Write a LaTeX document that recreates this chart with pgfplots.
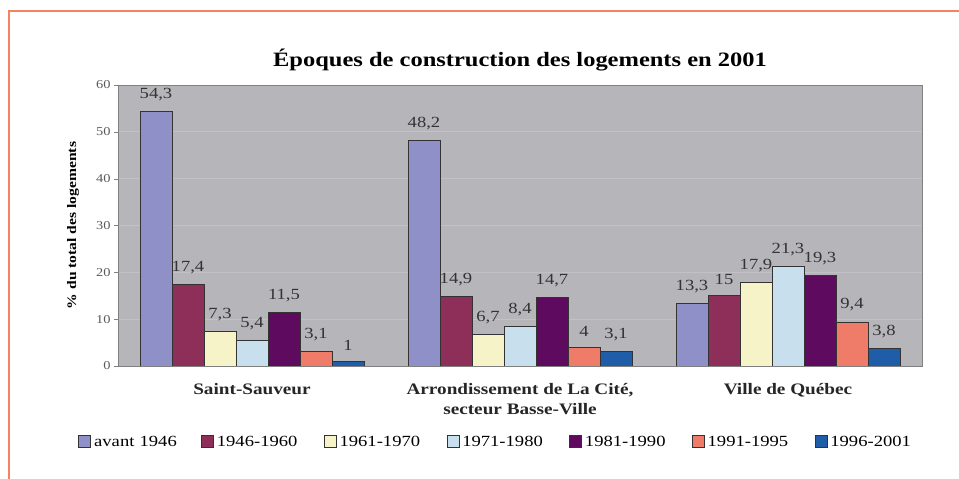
\documentclass[border=0pt]{standalone}
\usepackage{fontspec}
\setmainfont{Liberation Serif}[FakeStretch=1.2]
\usepackage{pgfplots}
\pgfplotsset{compat=1.18}
\definecolor{cA}{HTML}{9090C8}
\definecolor{cB}{HTML}{8E2F5A}
\definecolor{cC}{HTML}{F6F3C8}
\definecolor{cD}{HTML}{C8DFEE}
\definecolor{cE}{HTML}{5E0A5E}
\definecolor{cF}{HTML}{EE7C68}
\definecolor{cG}{HTML}{1F5DA8}
\definecolor{plotbg}{HTML}{B6B6BA}
\definecolor{gridc}{HTML}{C2C2C6}
\definecolor{frameorange}{HTML}{F4845F}
\begin{document}
\begin{tikzpicture}[x=1pt,y=1pt]
\path[use as bounding box] (0,0) rectangle (959,479);
\draw[frameorange, line width=2pt] (9,0) -- (9,468) -- (960,468);
\begin{axis}[
  at={(118pt,113pt)}, anchor=south west,
  scale only axis, width=804pt, height=281pt,
  ybar=0pt, bar width=32pt,
  xmin=-0.5, xmax=2.5, ymin=0, ymax=60,
  xtick={0,1,2},
  xticklabels={Saint-Sauveur, {Arrondissement de La Cité,\\secteur Basse-Ville}, Ville de Québec},
  xticklabel style={font=\bfseries\fontsize{16}{20}\selectfont, align=center, text=black!85, yshift=-10pt},
  x tick style={draw=none},
  ytick={0,10,...,60}, ytick pos=left,
  yticklabel style={font=\fontsize{12}{14}\selectfont, text=black!65},
  /pgf/number format/assume math mode=true,
  tick align=outside, major tick length=4pt, y tick style={gray},
  ymajorgrids, grid style={draw=gridc, line width=0.8pt},
  axis background/.style={fill=plotbg},
  axis line style={draw=gray},
  title={Époques de construction des logements en 2001},
  title style={font=\bfseries\fontsize{20.4}{24}\selectfont, at={(0.5,1)}, anchor=base, yshift=13pt},
  ylabel={\% du total des logements},
  ylabel style={font=\bfseries\fontsize{13}{15}\selectfont, at={(rel axis cs:0,0.5)}, anchor=center, yshift=45pt},
  nodes near coords,
  nodes near coords style={font=\fontsize{15.5}{17}\selectfont, text=black!80, yshift=7pt,
    /pgf/number format/.cd, use comma, fixed, precision=1, assume math mode=true},
  every axis plot/.append style={draw=black!80, line width=0.7pt},
  legend image code/.code={\draw[#1, draw=black!80, line width=0.7pt] (0pt,-5pt) rectangle (12pt,7pt);},
  legend columns=7,
  legend style={at={(rel axis cs:0.485,-0.27)}, anchor=center, draw=none, fill=none,
    font=\fontsize{15.5}{17}\selectfont,
    nodes={text width=104pt, inner xsep=3pt, align=left}},
]
\addplot[fill=cA] coordinates {(0,54.3) (1,48.2) (2,13.3)};
\addplot[fill=cB] coordinates {(0,17.4) (1,14.9) (2,15)};
\addplot[fill=cC] coordinates {(0,7.3) (1,6.7) (2,17.9)};
\addplot[fill=cD] coordinates {(0,5.4) (1,8.4) (2,21.3)};
\addplot[fill=cE] coordinates {(0,11.5) (1,14.7) (2,19.3)};
\addplot[fill=cF] coordinates {(0,3.1) (1,4) (2,9.4)};
\addplot[fill=cG] coordinates {(0,1) (1,3.1) (2,3.8)};
\legend{avant 1946, 1946-1960, 1961-1970, 1971-1980, 1981-1990, 1991-1995, 1996-2001}
\end{axis}
\end{tikzpicture}
\end{document}
